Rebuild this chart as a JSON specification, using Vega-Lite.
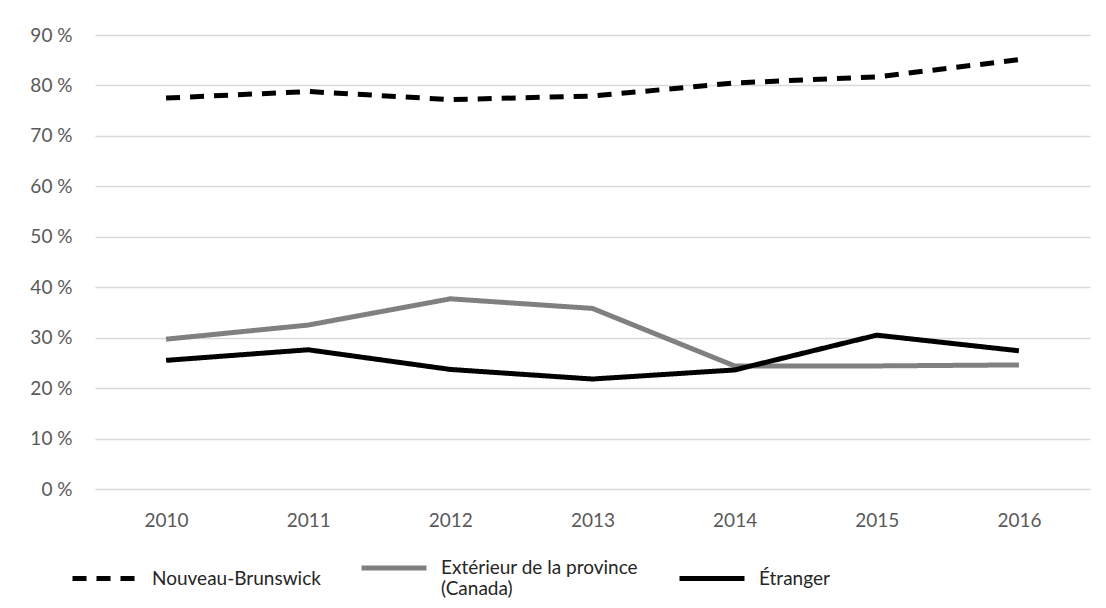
{
  "$schema": "https://vega.github.io/schema/vega-lite/v6.json",
  "autosize": "none",
  "width": 995,
  "height": 454,
  "padding": {"left": 95, "top": 35, "right": 16, "bottom": 119},
  "background": "white",
  "config": {
    "font": "Lato",
    "view": {"stroke": null},
    "axis": {"labelFont": "Lato", "labelFontSize": 19, "labelColor": "#595959", "ticks": false, "domain": false, "title": null},
    "legend": {"labelFont": "Lato", "labelFontSize": 19, "labelColor": "#262626"}
  },
  "data": {
    "values": [
      {"year": "2010", "series": "Nouveau-Brunswick", "value": 77.5},
      {"year": "2011", "series": "Nouveau-Brunswick", "value": 78.8},
      {"year": "2012", "series": "Nouveau-Brunswick", "value": 77.2},
      {"year": "2013", "series": "Nouveau-Brunswick", "value": 77.9},
      {"year": "2014", "series": "Nouveau-Brunswick", "value": 80.5},
      {"year": "2015", "series": "Nouveau-Brunswick", "value": 81.7},
      {"year": "2016", "series": "Nouveau-Brunswick", "value": 85.1},
      {"year": "2010", "series": "Extérieur de la province (Canada)", "value": 29.7},
      {"year": "2011", "series": "Extérieur de la province (Canada)", "value": 32.5},
      {"year": "2012", "series": "Extérieur de la province (Canada)", "value": 37.7},
      {"year": "2013", "series": "Extérieur de la province (Canada)", "value": 35.8},
      {"year": "2014", "series": "Extérieur de la province (Canada)", "value": 24.4},
      {"year": "2015", "series": "Extérieur de la province (Canada)", "value": 24.4},
      {"year": "2016", "series": "Extérieur de la province (Canada)", "value": 24.6},
      {"year": "2010", "series": "Étranger", "value": 25.5},
      {"year": "2011", "series": "Étranger", "value": 27.6},
      {"year": "2012", "series": "Étranger", "value": 23.7},
      {"year": "2013", "series": "Étranger", "value": 21.8},
      {"year": "2014", "series": "Étranger", "value": 23.6},
      {"year": "2015", "series": "Étranger", "value": 30.5},
      {"year": "2016", "series": "Étranger", "value": 27.4}
    ]
  },
  "mark": {"type": "line", "strokeWidth": 5, "strokeCap": "butt", "strokeJoin": "round"},
  "encoding": {
    "x": {
      "field": "year", "type": "ordinal",
      "scale": {"type": "point", "padding": 0.5},
      "axis": {"labelAngle": 0, "labelPadding": 22, "grid": false}
    },
    "y": {
      "field": "value", "type": "quantitative",
      "scale": {"domain": [0, 90], "nice": false},
      "axis": {"values": [0, 10, 20, 30, 40, 50, 60, 70, 80, 90], "labelExpr": "datum.value + ' %'", "labelPadding": 23, "grid": true, "gridColor": "#d9d9d9", "gridWidth": 1.5}
    },
    "color": {
      "field": "series", "type": "nominal",
      "sort": ["Nouveau-Brunswick", "Extérieur de la province (Canada)", "Étranger"],
      "scale": {"domain": ["Nouveau-Brunswick", "Extérieur de la province (Canada)", "Étranger"], "range": ["#000000", "#808080", "#000000"]},
      "legend": {
        "title": null, "orient": "none", "legendX": -25, "legendY": 498, "direction": "horizontal",
        "symbolType": "stroke", "symbolSize": 4225, "symbolStrokeWidth": 5, "labelOffset": 12, "columnPadding": 30,
        "labelBaseline": "middle", "labelLimit": 400,
        "labelExpr": "datum.label == 'Extérieur de la province (Canada)' ? ['Extérieur de la province', '(Canada)'] : datum.label"
      }
    },
    "strokeDash": {
      "field": "series", "type": "nominal",
      "scale": {"domain": ["Nouveau-Brunswick", "Extérieur de la province (Canada)", "Étranger"], "range": [[14, 10], [1, 0], [1, 0]]},
      "legend": null
    }
  }
}
